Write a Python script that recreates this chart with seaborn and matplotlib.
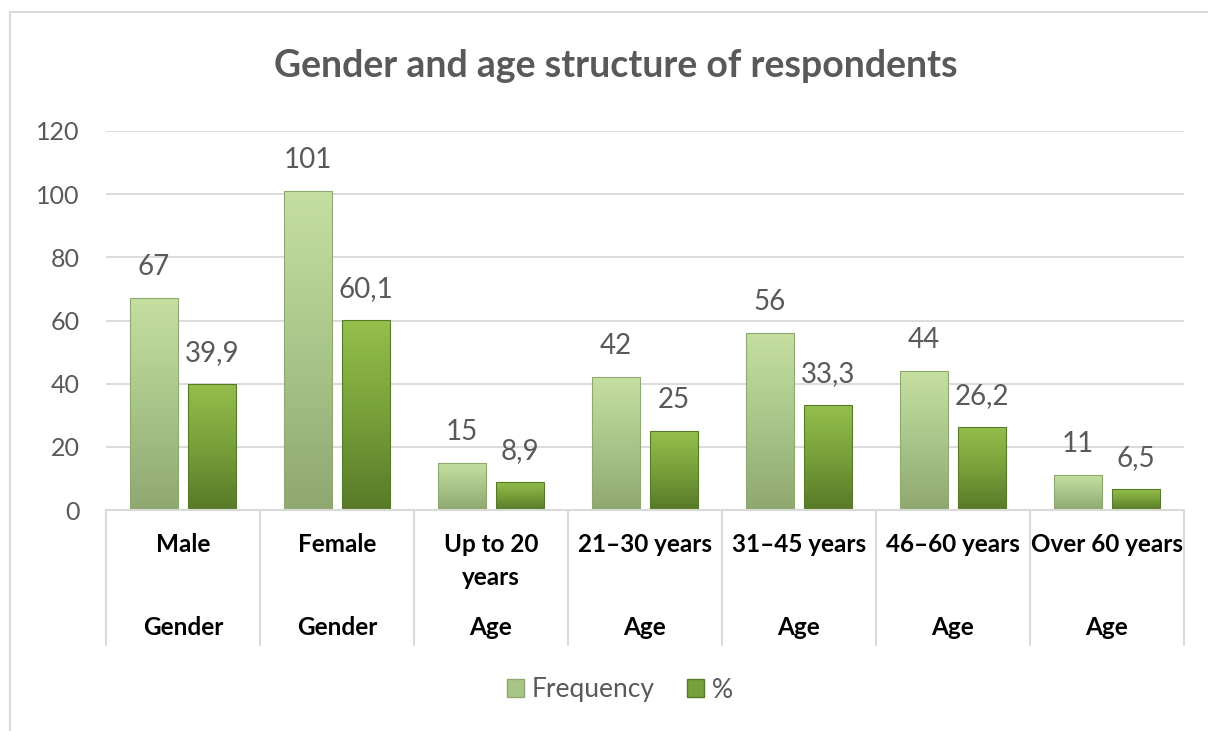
import numpy as np
import pandas as pd
import matplotlib
matplotlib.use("Agg")
import matplotlib.pyplot as plt
import matplotlib.transforms as mtransforms
from matplotlib.patches import Patch, Rectangle
from matplotlib.colors import LinearSegmentedColormap
import seaborn as sns

# data
categories = ["Male", "Female", "Up to 20\nyears", "21–30 years",
              "31–45 years", "46–60 years", "Over 60 years"]
groups = ["Gender", "Gender", "Age", "Age", "Age", "Age", "Age"]
frequency = [67, 101, 15, 42, 56, 44, 11]
percent = [39.9, 60.1, 8.9, 25, 33.3, 26.2, 6.5]
series = ["Frequency", "%"]

df = pd.DataFrame({
    "category": categories * 2,
    "series": [series[0]] * len(categories) + [series[1]] * len(categories),
    "value": frequency + percent,
})

sns.set_style("white")
plt.rcParams["font.family"] = ["Lato", "DejaVu Sans"]

GRAY = "#595959"
GRID = "#d9d9d9"
colors = {"Frequency": "#a8c588", "%": "#76a03a"}
grads = {
    "Frequency": ["#c4dfa0", "#a9c68a", "#8fa870"],
    "%": ["#94bf4c", "#77a03a", "#587a28"],
}

fig = plt.figure(figsize=(12.08, 7.31), dpi=100)
ax = fig.add_axes([106 / 1208, 1 - 510 / 731, (1184 - 106) / 1208, (510 - 131) / 731])

sns.barplot(data=df, x="category", y="value", hue="series", order=categories,
            hue_order=series, palette=colors, width=0.76, gap=0.18,
            edgecolor="none", ax=ax, legend=False)

ax.set_xlim(-0.5, len(categories) - 0.5)
ax.set_ylim(0, 120)
ax.set_yticks(np.arange(0, 121, 20))
ax.yaxis.grid(True, color=GRID, lw=1.3)
ax.set_axisbelow(True)
for s in ax.spines.values():
    s.set_visible(False)
ax.set_xlabel("")
ax.set_ylabel("")
ax.tick_params(axis="y", length=0, pad=19, labelsize=18, labelcolor=GRAY)
ax.set_xticks([])

# gradient fill + value labels
bars = [p for p in ax.patches if p.get_height() > 0]
for i, p in enumerate(bars):
    s = series[0] if i < len(categories) else series[1]
    x0, w, h = p.get_x(), p.get_width(), p.get_height()
    cmap = LinearSegmentedColormap.from_list(s, grads[s][::-1])
    im = ax.imshow(np.linspace(0, 1, 100).reshape(-1, 1), cmap=cmap, origin="lower",
                   extent=[x0, x0 + w, 0, h], aspect="auto", zorder=2)
    im.set_clip_path(p)
    ax.add_patch(Rectangle((x0, 0), w, h, fill=False, edgecolor=grads[s][2],
                           lw=0.8, zorder=3))
    v = p.get_height()
    txt = f"{v:g}".replace(".", ",")
    ax.annotate(txt, (x0 + w / 2, v), xytext=(0, 13), textcoords="offset points",
                ha="center", va="bottom", fontsize=20, color=GRAY)

ax.set_xlim(-0.5, len(categories) - 0.5)
ax.set_ylim(0, 120)

# table below the axis
trans = mtransforms.blended_transform_factory(ax.transData, ax.transAxes)
ax.plot([-0.5, len(categories) - 0.5], [0, 0], color=GRID, lw=1.5,
        transform=trans, clip_on=False, zorder=4)
for i in range(len(categories) + 1):
    ax.plot([i - 0.5, i - 0.5], [0, -0.356], color=GRID, lw=1.5,
            transform=trans, clip_on=False)
for i, (c, g) in enumerate(zip(categories, groups)):
    ax.text(i, -0.062, c, transform=trans, ha="center", va="top", fontsize=17.5,
            fontweight="bold", color="black", linespacing=1.5)
    ax.text(i, -0.311, g, transform=trans, ha="center", va="center", fontsize=17.5,
            fontweight="bold", color="black")

fig.text(616 / 1208, 1 - 66 / 731, "Gender and age structure of respondents",
         ha="center", va="center", fontsize=27, fontweight="bold", color=GRAY)

handles = [Patch(facecolor=colors[s], edgecolor=grads[s][2]) for s in series]
fig.legend(handles, series, loc="center", bbox_to_anchor=(620 / 1208, 1 - 690 / 731),
           ncol=2, frameon=False, fontsize=19, labelcolor=GRAY, handlelength=0.65,
           handleheight=0.65, handletextpad=0.3, columnspacing=1.2)

# outer chart border
fig.patches.append(Rectangle((10 / 1208, -0.1), 1.2, 1 - 12 / 731 + 0.1,
                             transform=fig.transFigure, fill=False,
                             edgecolor=GRID, lw=1.5))

fig.savefig("out.png", dpi=100)
